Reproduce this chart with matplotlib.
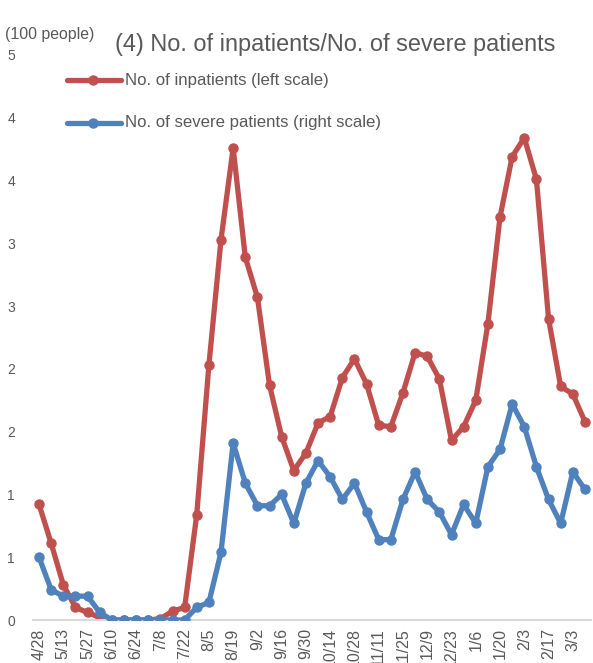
import matplotlib
matplotlib.use("Agg")
import matplotlib.pyplot as plt
from matplotlib.lines import Line2D

plt.rcParams['font.family'] = ['Liberation Sans', 'DejaVu Sans']

# ---- data ----
tick_labels = ['4/28', '5/13', '5/27', '6/10', '6/24', '7/8', '7/22', '8/5', '8/19',
               '9/2', '9/16', '9/30', '10/14', '10/28', '11/11', '11/25', '12/9',
               '12/23', '1/6', '1/20', '2/3', '2/17', '3/3']
inpatients = [0.92, 0.61, 0.28, 0.10, 0.06, 0.02, 0.0, 0.0, 0.0, 0.0,
              0.01, 0.07, 0.10, 0.84, 2.03, 3.03, 3.76, 2.89, 2.57, 1.87,
              1.46, 1.19, 1.33, 1.57, 1.62, 1.93, 2.08, 1.88, 1.55, 1.54,
              1.81, 2.13, 2.10, 1.92, 1.43, 1.54, 1.75, 2.36, 3.21, 3.69,
              3.84, 3.51, 2.40, 1.86, 1.80, 1.58]
severe = [0.50, 0.24, 0.19, 0.19, 0.19, 0.06, 0.0, 0.0, 0.0, 0.0,
          0.0, 0.0, 0.0, 0.10, 0.14, 0.54, 1.41, 1.09, 0.91, 0.91,
          1.00, 0.77, 1.09, 1.27, 1.14, 0.96, 1.09, 0.86, 0.64, 0.64,
          0.96, 1.18, 0.96, 0.86, 0.68, 0.92, 0.77, 1.22, 1.36, 1.72,
          1.54, 1.22, 0.96, 0.77, 1.18, 1.04]
y_ticks = [0, 0.5, 1.0, 1.5, 2.0, 2.5, 3.0, 3.5, 4.0, 4.5]
y_tick_labels = ['0', '1', '1', '2', '2', '3', '3', '4', '4', '5']

RED = '#C0504D'
BLUE = '#4F81BD'
GRAY = '#595959'

W, H = 593, 663
fig = plt.figure(figsize=(W / 100, H / 100), dpi=100)
ax = fig.add_axes([33 / W, 1 - 620 / H, (591 - 33) / W, (620 - 55) / H])
ax2 = ax.twinx()

x = list(range(len(inpatients)))
ax.plot(x, inpatients, color=RED, lw=3.8, marker='o', ms=6.5, solid_capstyle='round')
ax2.plot(x, severe, color=BLUE, lw=3.8, marker='o', ms=6.5, solid_capstyle='round')

for a in (ax, ax2):
    a.set_xlim(-0.5, len(inpatients) - 0.5)
    a.set_ylim(0, 4.5)
    for s in a.spines.values():
        s.set_visible(False)
    a.patch.set_visible(False)
ax2.set_yticks([])
ax.spines['bottom'].set_visible(True)
ax.spines['bottom'].set_color('#D9D9D9')
ax.spines['bottom'].set_linewidth(1.5)

ax.set_yticks(y_ticks)
ax.set_yticklabels(y_tick_labels)
ax.tick_params(axis='y', length=0, pad=13, labelsize=10, labelcolor=GRAY)
ax.set_xticks(list(range(0, 2 * len(tick_labels), 2)))
ax.set_xticklabels(tick_labels, rotation=90)
ax.tick_params(axis='x', length=0, pad=6, labelsize=11.5, labelcolor=GRAY)
ax.set_zorder(1)
ax2.set_zorder(2)

fig.text(5 / W, 1 - 35 / H, '(100 people)', fontsize=11.4, color=GRAY, va='center', ha='left')
fig.text(115 / W, 1 - 45 / H, '(4) No. of inpatients/No. of severe patients',
         fontsize=16.9, color=GRAY, va='center', ha='left')

# legend
for yy, col, lab in [(80, RED, 'No. of inpatients (left scale)'),
                     (123, BLUE, 'No. of severe patients (right scale)')]:
    fy = 1 - yy / H
    fig.add_artist(Line2D([67 / W, 121 / W], [fy, fy], color=col, lw=3.8,
                          solid_capstyle='round', transform=fig.transFigure))
    fig.add_artist(Line2D([93 / W], [fy], color=col, marker='o', ms=6.5,
                          transform=fig.transFigure))
    fig.text(125 / W, fy, lab, fontsize=12.1, color=GRAY, va='center', ha='left')

fig.savefig('out.png', dpi=100)
